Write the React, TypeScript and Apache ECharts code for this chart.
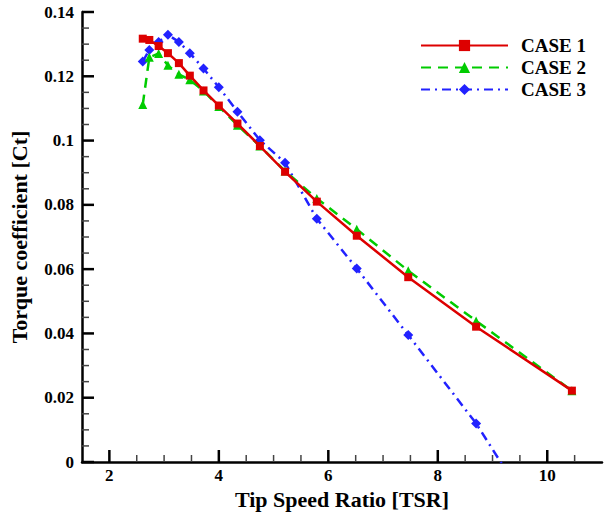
import React, { useEffect, useRef } from "react";
import * as echarts from "echarts";

const tsr = [2.61, 2.73, 2.9, 3.07, 3.27, 3.47, 3.72, 4.0, 4.34, 4.75, 5.21, 5.79, 6.52, 7.46, 8.7, 10.45];
const case1 = [0.1317, 0.1313, 0.1294, 0.1272, 0.1241, 0.1202, 0.1156, 0.1109, 0.1053, 0.0983, 0.0903, 0.081, 0.0704, 0.0575, 0.0421, 0.0222];
const case2 = [0.1112, 0.1259, 0.1271, 0.1234, 0.1206, 0.1189, 0.1154, 0.1106, 0.1048, 0.0983, 0.0905, 0.082, 0.0724, 0.0595, 0.0439, 0.0222];
const case3 = [0.1246, 0.1282, 0.1307, 0.1329, 0.1307, 0.1272, 0.1224, 0.1166, 0.109, 0.1001, 0.0931, 0.0757, 0.0602, 0.0395, 0.012, -0.035];
const seriesNames = ["CASE 1", "CASE 2", "CASE 3"];
const xMajorTicks = [2, 4, 6, 8, 10];
const xMinorTicks = [2.5, 3, 3.5, 4.5, 5, 5.5, 6.5, 7, 7.5, 8.5, 9, 9.5, 10.5];
const yMajorTicks = [0, 0.02, 0.04, 0.06, 0.08, 0.1, 0.12, 0.14];
const yMinorTicks = [
  0.005, 0.01, 0.015, 0.025, 0.03, 0.035, 0.045, 0.05, 0.055, 0.065, 0.07, 0.075,
  0.085, 0.09, 0.095, 0.105, 0.11, 0.115, 0.125, 0.13, 0.135,
];

const X_MIN = 1.5;
const X_MAX = 11;
const FONT = "Liberation Serif";

const pairs = (ys: number[]) => tsr.map((x, i) => [x, ys[i]]);

export default function App() {
  const ref = useRef<HTMLDivElement>(null);
  useEffect(() => {
    document.body.style.margin = "0";
    const chart = echarts.init(ref.current!, undefined, { renderer: "svg" });
    const labelStyle = { fontFamily: FONT, fontWeight: "bold" as const, fontSize: 17, color: "#000" };
    const nameStyle = { fontFamily: FONT, fontWeight: "bold" as const, fontSize: 22, color: "#000" };
    chart.setOption({
      animation: false,
      backgroundColor: "#fff",
      grid: { left: 74, right: 7, top: 12, bottom: 63 },
      legend: {
        orient: "vertical",
        left: 415,
        top: 31,
        itemWidth: 87,
        itemHeight: 14,
        itemGap: 3,
        textStyle: { fontFamily: FONT, fontWeight: "bold", fontSize: 19, color: "#000", padding: [0, 0, 0, 8] },
        data: seriesNames,
      },
      xAxis: {
        type: "value",
        min: X_MIN,
        max: X_MAX,
        name: "Tip Speed Ratio [TSR]",
        nameLocation: "middle",
        nameGap: 23,
        nameTextStyle: nameStyle,
        axisLine: { show: true, lineStyle: { color: "#000", width: 2.5 } },
        axisTick: { show: false },
        axisLabel: { show: true, ...labelStyle, margin: 5, customValues: xMajorTicks },
        splitLine: { show: false },
      },
      yAxis: {
        type: "value",
        min: 0,
        max: 0.14,
        interval: 0.02,
        name: "Torque coefficient [Ct]",
        nameLocation: "middle",
        nameGap: 52,
        nameTextStyle: nameStyle,
        axisLine: { show: true, lineStyle: { color: "#000", width: 2.5 } },
        axisTick: { show: false },
        axisLabel: { show: true, ...labelStyle, margin: 8 },
        splitLine: { show: false },
      },
      series: [
        {
          name: seriesNames[0],
          type: "line",
          data: pairs(case1),
          symbol: "rect",
          symbolSize: 8,
          color: "#dd0000",
          lineStyle: { color: "#dd0000", width: 2.5 },
          itemStyle: { color: "#dd0000" },
          z: 3,
        },
        {
          name: seriesNames[1],
          type: "line",
          data: pairs(case2),
          symbol: "triangle",
          symbolSize: 9,
          color: "#00cc00",
          lineStyle: { color: "#00cc00", width: 2.5, type: [10, 7] },
          itemStyle: { color: "#00cc00" },
          z: 2,
        },
        {
          name: seriesNames[2],
          type: "line",
          data: pairs(case3),
          symbol: "diamond",
          symbolSize: 10,
          color: "#2222ff",
          lineStyle: { color: "#2222ff", width: 2.5, type: [9, 5, 2, 5] },
          itemStyle: { color: "#2222ff" },
          z: 1,
        },
      ],
    });

    // Inside axis ticks, placed through the chart's own scales.
    const toPx = (x: number, y: number) => chart.convertToPixel({ gridIndex: 0 }, [x, y]) as number[];
    const tickEls: any[] = [];
    const addX = (v: number, major: boolean) => {
      const p = toPx(v, 0);
      const len = major ? 12 : 7;
      const w = major ? 2.5 : 1.5;
      tickEls.push({
        type: "rect",
        shape: { x: p[0] - w / 2, y: p[1] - len, width: w, height: len },
        style: { fill: major ? "#000" : "#444" },
        z: 100,
        silent: true,
      });
    };
    const addY = (v: number, major: boolean) => {
      const p = toPx(X_MIN, v);
      const len = major ? 12 : 7;
      const w = major ? 2.5 : 1.5;
      tickEls.push({
        type: "rect",
        shape: { x: p[0], y: p[1] - w / 2, width: len, height: w },
        style: { fill: major ? "#000" : "#444" },
        z: 100,
        silent: true,
      });
    };
    xMajorTicks.forEach((v) => addX(v, true));
    xMinorTicks.forEach((v) => addX(v, false));
    yMajorTicks.forEach((v) => addY(v, true));
    yMinorTicks.forEach((v) => addY(v, false));
    chart.setOption({ graphic: { elements: tickEls } });

    return () => chart.dispose();
  }, []);
  return <div ref={ref} style={{ position: "fixed", left: 0, top: 0, width: 609, height: 525 }} />;
}
